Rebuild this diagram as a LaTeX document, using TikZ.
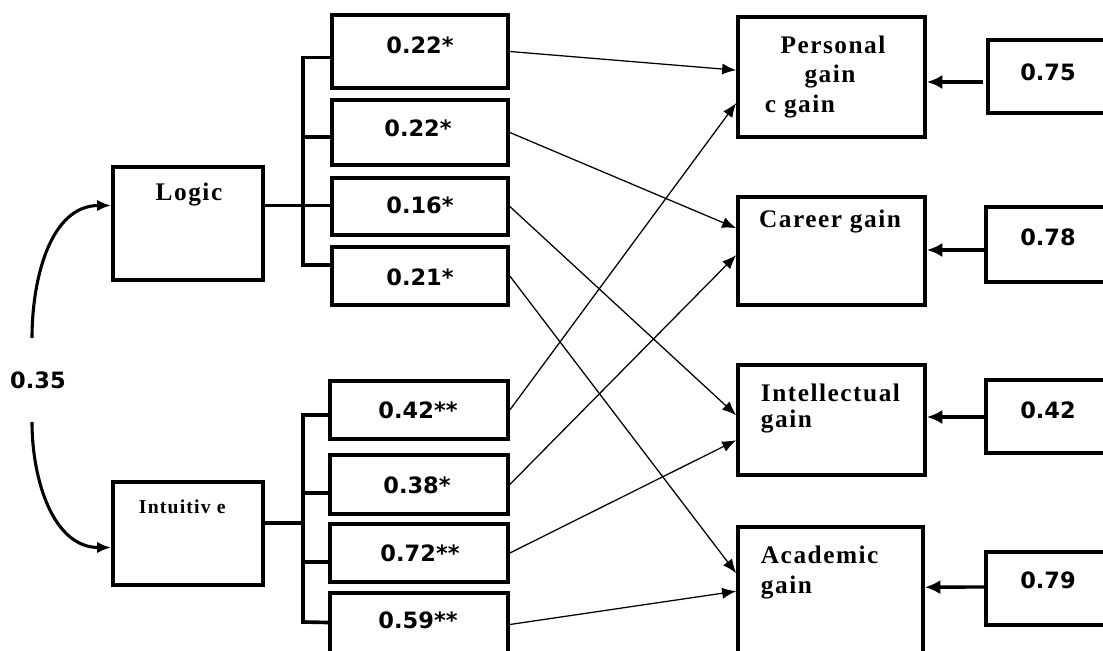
\documentclass[tikz,border=0pt]{standalone}
\usepackage{fontspec}
\setmainfont{Liberation Serif}[BoldFont={Liberation Serif Bold}]
\newfontfamily\lblfont{Liberation Serif}[BoldFont={Liberation Serif Bold},LetterSpace=6]
\newfontfamily\numfont{DejaVu Sans}[BoldFont={DejaVu Sans Bold}]
\usetikzlibrary{calc,fit,arrows.meta}

\newcommand*{\jx}{303}
\newcommand*{\vx}{986}

\begin{document}
\begin{tikzpicture}
[
	x=0.025cm,y=-0.025cm,
	>={Latex[length=10pt,width=8pt]},
	box/.style={draw,line width=2.6pt,inner sep=0pt},
	num/.style={font=\numfont\bfseries\fontsize{16}{19}\selectfont},
	lbl/.style={font=\lblfont\bfseries\fontsize{18}{21}\selectfont},
	bracket/.style={line width=2.6pt},
	link/.style={->,line width=0.9pt},
	feed/.style={-{Latex[length=11pt,width=10pt]},line width=2.4pt},
	curve/.style={->,line width=2.2pt}
]

	\useasboundingbox (0,0) rectangle (1103,650);
	\clip (0,0) rectangle (1103,650);

	% left boxes
	\node[box,fit={(113,167) (263,280)}] (logic) {};
	\node[box,fit={(113,482) (263,585)}] (intu) {};
	\node[lbl,font=\lblfont\bfseries\fontsize{18}{22}\selectfont] at (189,195) {Logic};
	\node[lbl,anchor=west,font=\lblfont\bfseries\fontsize{14}{18}\selectfont] at (134,507) {Intuitiv e};

	% correlation
	\coordinate (c1) at (32,338);
	\coordinate (c2) at (32,422);
	\draw[curve] (c1) to[out=90,in=180] ($(logic.west)+(0,-18)$);
	\draw[curve] (c2) to[out=-90,in=180] ($(intu.west)+(0,14)$);
	\node[num] at (38,380) {0.35};

	% middle boxes
	\node[box,fit={(332,15) (508,88)}] (b1) {};
	\node[box,fit={(332,100) (508,165)}] (b2) {};
	\node[box,fit={(332,178) (508,235)}] (b3) {};
	\node[box,fit={(332,247) (508,305)}] (b4) {};
	\node[box,fit={(330,381) (508,439)}] (b5) {};
	\node[box,fit={(330,455) (508,514)}] (b6) {};
	\node[box,fit={(330,524) (508,582)}] (b7) {};
	\node[box,fit={(330,593) (508,656)}] (b8) {};

	\node[num] at (420,45) {0.22*};
	\node[num] at (418,128) {0.22*};
	\node[num] at (420,205) {0.16*};
	\node[num] at (420,277) {0.21*};
	\node[num] at (418,410) {0.42**};
	\node[num] at (417,485) {0.38*};
	\node[num] at (420,553) {0.72**};
	\node[num] at (418,620) {0.59**};

	% brackets
	\draw[bracket] ($(logic.east)+(0,-18)$) -- ($(b3.west)+(0,-1)$);
	\draw[bracket] ($(b1.west)+(0,6)$) -| (\jx,265) -- ($(b4.west)+(0,-11)$);
	\draw[bracket] (\jx,137) -- ($(b2.west)+(0,4.5)$);
	\draw[bracket] ($(intu.east)+(0,-10.5)$) -- (\jx,523);
	\draw[bracket] ($(b5.west)+(0,5)$) -| (\jx,622) -- ($(b8.west)+(0,-2)$);
	\draw[bracket] (\jx,493) -- ($(b6.west)+(0,8.5)$);
	\draw[bracket] (\jx,562) -- ($(b7.west)+(0,9)$);

	% right boxes
	\node[box,fit={(738,17) (925,137)}] (pers) {};
	\node[box,fit={(738,197) (925,305)}] (car) {};
	\node[box,fit={(738,365) (925,475)}] (intel) {};
	\node[box,fit={(738,527) (923,670)}] (acad) {};

	\node[lbl] at (833,45) {Personal};
	\node[lbl] at (830,77) {gain};
	\node[lbl,anchor=west] at (760,107) {c gain};
	\node[lbl] at (830,222) {Career gain};
	\node[lbl,anchor=west] at (756,393) {Intellectual};
	\node[lbl,anchor=west] at (756,422) {gain};
	\node[lbl,anchor=west] at (756,555) {Academic};
	\node[lbl,anchor=west] at (756,588) {gain};

	% paths
	\draw[link] (b1.east) -- ($(pers.north west)+(0,55)$);
	\draw[link] (b5.east) -- ($(pers.north west)+(0,88)$);
	\draw[link] (b2.east) -- ($(car.north west)+(0,33)$);
	\draw[link] (b6.east) -- ($(car.north west)+(0,60)$);
	\draw[link] (b3.east) -- ($(intel.north west)+(0,52)$);
	\draw[link] (b7.east) -- ($(intel.north west)+(0,77)$);
	\draw[link] (b4.east) -- ($(acad.north west)+(0,48)$);
	\draw[link] (b8.east) -- ($(acad.north west)+(0,66)$);

	% residuals
	\node[box,fit={(988,40) (1130,113)}] (v1) {};
	\node[box,fit={(\vx,207) (1130,282)}] (v2) {};
	\node[box,fit={(\vx,380) (1130,453)}] (v3) {};
	\node[box,fit={(\vx,552) (1130,625)}] (v4) {};

	\node[num] at (1048,72) {0.75};
	\node[num] at (1048,237) {0.78};
	\node[num] at (1048,410) {0.42};
	\node[num] at (1048,580) {0.79};

	\draw[feed] ($(v1.west)+(-3,5.5)$) -- ($(pers.east)+(0,5)$);
	\draw[feed] ($(v2.west)+(0,5.5)$) -- ($(car.east)+(0,-1)$);
	\draw[feed] ($(v3.west)+(0,0.5)$) -- ($(intel.east)+(0,-3)$);
	\draw[feed] ($(v4.west)+(0,-1.5)$) -- ($(acad.north east)+(0,62)$);

\end{tikzpicture}
\end{document}
